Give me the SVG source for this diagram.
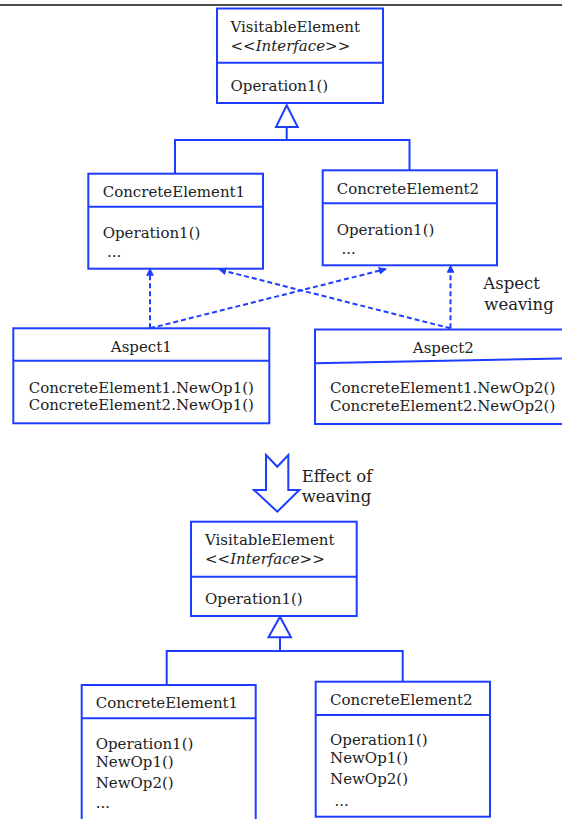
<svg xmlns="http://www.w3.org/2000/svg" width="562" height="819" viewBox="0 0 562 819">
  <style>
    .box { fill: #ffffff; stroke: #1f3dff; stroke-width: 2; }
    .line { fill: none; stroke: #1f3dff; stroke-width: 2; }
    .dash { fill: none; stroke: #1f3dff; stroke-width: 2; stroke-dasharray: 5 3; }
    .hollow { fill: #ffffff; stroke: #1f3dff; stroke-width: 2; stroke-linejoin: miter; }
    text { font-family: "DejaVu Serif", "Liberation Serif", serif; font-size: 15px; fill: #222222; }
    .lbl { font-size: 16.5px; }
    .mid { text-anchor: middle; }
  </style>
  <defs>
    <marker id="dep" viewBox="0 0 10 10" refX="9" refY="5" markerWidth="4" markerHeight="4" orient="auto">
      <path d="M0,0 L10,5 L0,10 z" fill="#1f3dff"/>
    </marker>
  </defs>

  <!-- page rule -->
  <line x1="0" y1="5" x2="562" y2="5" stroke="#111111" stroke-width="1.5"/>

  <!-- ===== before weaving ===== -->
  <g id="visitable-top">
    <rect class="box" x="217" y="8.5" width="166" height="94.5"/>
    <line class="line" x1="217" y1="62.7" x2="383" y2="62.7"/>
    <text x="230.5" y="31.7">VisitableElement</text>
    <text x="230.5" y="51">&lt;&lt;<tspan font-style="italic">Interface</tspan>&gt;&gt;</text>
    <text x="230.5" y="90.7">Operation1()</text>
  </g>

  <g id="concrete1-top">
    <rect class="box" x="88.3" y="173.7" width="174.7" height="95"/>
    <line class="line" x1="88.3" y1="206.7" x2="263" y2="206.7"/>
    <text x="102.7" y="196.7">ConcreteElement1</text>
    <text x="102.7" y="238.3">Operation1()</text>
    <text x="107" y="256.7">...</text>
  </g>

  <g id="concrete2-top">
    <rect class="box" x="322.7" y="170.3" width="174.3" height="95"/>
    <line class="line" x1="322.7" y1="203.3" x2="497" y2="203.3"/>
    <text x="336.7" y="194">ConcreteElement2</text>
    <text x="336.7" y="235">Operation1()</text>
    <text x="341.5" y="254">...</text>
  </g>

  <g id="aspect1">
    <rect class="box" x="13.3" y="328.3" width="256" height="95"/>
    <line class="line" x1="13.3" y1="360.7" x2="269.3" y2="360.7"/>
    <text class="mid" x="141.3" y="351.7">Aspect1</text>
    <text class="mid" x="141.3" y="392.7">ConcreteElement1.NewOp1()</text>
    <text class="mid" x="141.3" y="410">ConcreteElement2.NewOp1()</text>
  </g>

  <g id="aspect2">
    <path class="box" d="M566,329.5 L315,329.5 L315,424 L566,424"/>
    <line class="line" x1="315" y1="363.3" x2="566" y2="358.5"/>
    <text class="mid" x="443.3" y="352.7">Aspect2</text>
    <text x="330" y="392.7">ConcreteElement1.NewOp2()</text>
    <text x="330" y="410.7">ConcreteElement2.NewOp2()</text>
  </g>

  <g id="aspect-weaving-label">
    <text class="lbl" x="483.3" y="289">Aspect</text>
    <text class="lbl" x="484.3" y="310">weaving</text>
  </g>

  <g id="connectors-top">
    <!-- generalisation -->
    <path class="hollow" d="M286.7,105.3 L297.7,127 L276,127 Z"/>
    <path class="line" d="M286.7,127 L286.7,140 M175,173.7 L175,140 L409.5,140 L409.5,170.3"/>
    <!-- weaving dependencies -->
    <path class="dash" d="M150,328.3 L150,268.5" marker-end="url(#dep)"/>
    <path class="dash" d="M150,328.3 L386,269" marker-end="url(#dep)"/>
    <path class="dash" d="M450.5,328.3 L219,269.5" marker-end="url(#dep)"/>
    <path class="dash" d="M450.5,328.3 L450.5,265.5" marker-end="url(#dep)"/>
  </g>

  <!-- ===== transition ===== -->
  <g id="effect-arrow">
    <path class="hollow" d="M266,455 L277.3,466.7 L288.3,455 L288.3,490 L299.3,490 L277.3,511.7 L254,490 L266,490 Z"/>
    <text class="lbl" x="301.7" y="481.7">Effect of</text>
    <text class="lbl" x="301.7" y="501.7">weaving</text>
  </g>

  <!-- ===== after weaving ===== -->
  <g id="visitable-bottom">
    <rect class="box" x="191" y="521.7" width="165.7" height="94.3"/>
    <line class="line" x1="191" y1="576.7" x2="356.7" y2="576.7"/>
    <text x="205" y="545">VisitableElement</text>
    <text x="205" y="564">&lt;&lt;<tspan font-style="italic">Interface</tspan>&gt;&gt;</text>
    <text x="205" y="604.3">Operation1()</text>
  </g>

  <g id="concrete1-bottom">
    <path class="box" d="M81.7,822 L81.7,685 L255.7,685 L255.7,822"/>
    <line class="line" x1="81.7" y1="718.3" x2="255.7" y2="718.3"/>
    <text x="95.7" y="708.3">ConcreteElement1</text>
    <text x="95.7" y="749.3">Operation1()</text>
    <text x="95.7" y="766.7">NewOp1()</text>
    <text x="95.7" y="788.3">NewOp2()</text>
    <text x="95.7" y="808.3">...</text>
  </g>

  <g id="concrete2-bottom">
    <rect class="box" x="315.7" y="681.7" width="174.3" height="135"/>
    <line class="line" x1="315.7" y1="715" x2="490" y2="715"/>
    <text x="330" y="705">ConcreteElement2</text>
    <text x="330" y="745">Operation1()</text>
    <text x="330" y="763.3">NewOp1()</text>
    <text x="330" y="784">NewOp2()</text>
    <text x="334.5" y="805.7">...</text>
  </g>

  <g id="connectors-bottom">
    <path class="hollow" d="M280,616.7 L291,637.3 L268.5,637.3 Z"/>
    <path class="line" d="M280,637.3 L280,651 M166.7,685 L166.7,651 L402.7,651 L402.7,681.7"/>
  </g>
</svg>
